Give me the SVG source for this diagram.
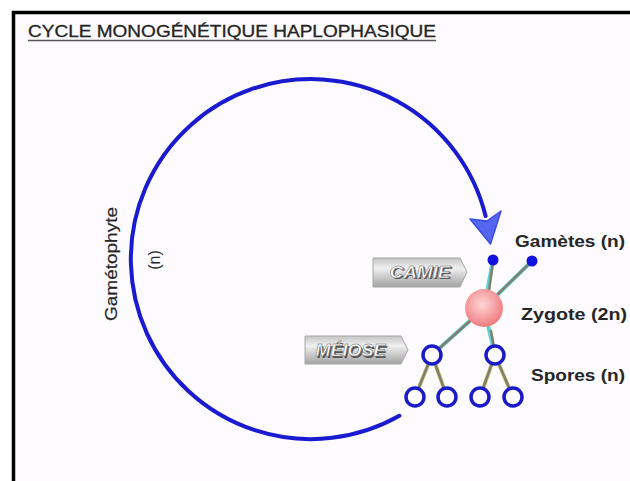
<svg xmlns="http://www.w3.org/2000/svg" width="630" height="481" viewBox="0 0 630 481">
<style>
.lbl{font-family:"Liberation Sans",Arial,sans-serif;font-size:16px;fill:#262626;}
.tagtxt{font-family:"Liberation Sans",Arial,sans-serif;font-size:17px;font-weight:bold;font-style:italic;}
.spore{fill:#fdfbfe;stroke:#1a1ac8;stroke-width:3.5;}
.gam{fill:#1212e0;}
.halo{stroke:#62d4d4;stroke-width:4;stroke-linecap:round;}
.core{stroke:#7f7f6e;stroke-width:2.5;stroke-linecap:round;}
.yhalo{stroke:#cfc677;stroke-width:4;stroke-linecap:round;}
</style>
<defs>
<radialGradient id="zg" cx="0.45" cy="0.4" r="0.6">
<stop offset="0" stop-color="#ffd6d6"/>
<stop offset="1" stop-color="#f07c80"/>
</radialGradient>
<linearGradient id="tg" x1="0" y1="0" x2="0" y2="1">
<stop offset="0" stop-color="#c4c4c4"/>
<stop offset="0.35" stop-color="#efefef"/>
<stop offset="1" stop-color="#a2a2a2"/>
</linearGradient>
</defs>
<rect x="0" y="0" width="630" height="481" fill="#ffffff"/>
<rect x="13.5" y="12.5" width="640" height="500" fill="#fdfbfe" stroke="#000" stroke-width="3.5"/>
<g id="title">
<text x="28" y="37" class="lbl" font-size="17" fill="#1e1e1e" stroke="#1e1e1e" stroke-width="0.3" textLength="408" lengthAdjust="spacingAndGlyphs">CYCLE MONOGÉNÉTIQUE HAPLOPHASIQUE</text>
<line x1="28" y1="40.5" x2="436" y2="40.5" stroke="#555" stroke-width="1.3"/>
</g>
<g id="connectors">
<path id="cycle" d="M399.4 415.8 A180 180 0 1 1 485.6 216" fill="none" stroke="#1a1ad0" stroke-width="4" stroke-linecap="round"/>
<polygon points="470,219 487,221 501,211 490.5,244" fill="#5566f0" stroke="#3c4ce6" stroke-width="1.5" stroke-linejoin="round"/>
<g>
<line class="halo" x1="484" y1="308" x2="493" y2="260"/>
<line class="halo" x1="484" y1="308" x2="532" y2="261"/>
<line class="halo" x1="484" y1="308" x2="432" y2="355"/>
<line class="halo" x1="484" y1="308" x2="495" y2="355"/>
<line class="core" x1="489" y1="291" x2="493" y2="262"/>
<line class="core" x1="498" y1="294" x2="530" y2="263"/>
<line class="core" x1="470" y1="321" x2="434" y2="353"/>
<line class="core" x1="491" y1="331" x2="495" y2="353"/>
</g>
<g>
<line class="yhalo" x1="432" y1="355" x2="415" y2="397"/>
<line class="yhalo" x1="432" y1="355" x2="447" y2="397"/>
<line class="yhalo" x1="495" y1="355" x2="480" y2="397"/>
<line class="yhalo" x1="495" y1="355" x2="513" y2="397"/>
<line class="core" stroke-width="1.5" x1="432" y1="355" x2="415" y2="397"/>
<line class="core" stroke-width="1.5" x1="432" y1="355" x2="447" y2="397"/>
<line class="core" stroke-width="1.5" x1="495" y1="355" x2="480" y2="397"/>
<line class="core" stroke-width="1.5" x1="495" y1="355" x2="513" y2="397"/>
</g>
</g>
<g id="gametophyte">
<text class="lbl" font-size="16" stroke="#262626" stroke-width="0.2" transform="translate(117,264) rotate(-90)" text-anchor="middle" textLength="114" lengthAdjust="spacingAndGlyphs">Gamétophyte</text>
<text class="lbl" font-size="16" transform="translate(160,260) rotate(-90)" text-anchor="middle">(n)</text>
</g>
<g id="gametes">
<circle class="gam" cx="493" cy="260" r="5.5"/>
<circle class="gam" cx="532" cy="261" r="5.5"/>
<text class="lbl" font-weight="bold" x="515" y="247" textLength="110" lengthAdjust="spacingAndGlyphs">Gamètes (n)</text>
</g>
<g id="zygote">
<circle cx="484" cy="308" r="19" fill="url(#zg)"/>
<text class="lbl" font-weight="bold" x="521" y="320" textLength="106" lengthAdjust="spacingAndGlyphs">Zygote (2n)</text>
</g>
<g id="spores">
<circle class="spore" cx="432" cy="355" r="9"/>
<circle class="spore" cx="495" cy="355" r="9"/>
<circle class="spore" cx="415" cy="397" r="9"/>
<circle class="spore" cx="447" cy="397" r="9"/>
<circle class="spore" cx="480" cy="397" r="9"/>
<circle class="spore" cx="513" cy="397" r="9"/>
<text class="lbl" font-weight="bold" x="531" y="381" textLength="94" lengthAdjust="spacingAndGlyphs">Spores (n)</text>
</g>
<g id="camie">
<polygon points="373,258 460,258 467,272 460,287 373,287" fill="url(#tg)" stroke="#a8a8a8" stroke-width="1"/>
<text class="tagtxt" x="391" y="279" fill="#555" textLength="61" lengthAdjust="spacingAndGlyphs">CAMIE</text>
<text class="tagtxt" x="389.5" y="277.5" fill="#fff" stroke="#6a6a6a" stroke-width="0.5" textLength="61" lengthAdjust="spacingAndGlyphs">CAMIE</text>
</g>
<g id="meiose">
<polygon points="305,336 401,336 408,350 401,364 305,364" fill="url(#tg)" stroke="#a8a8a8" stroke-width="1"/>
<text class="tagtxt" x="317" y="357.5" fill="#555" textLength="70" lengthAdjust="spacingAndGlyphs">MÉIOSE</text>
<text class="tagtxt" x="315.5" y="356" fill="#fff" stroke="#6a6a6a" stroke-width="0.5" textLength="70" lengthAdjust="spacingAndGlyphs">MÉIOSE</text>
</g>
</svg>
